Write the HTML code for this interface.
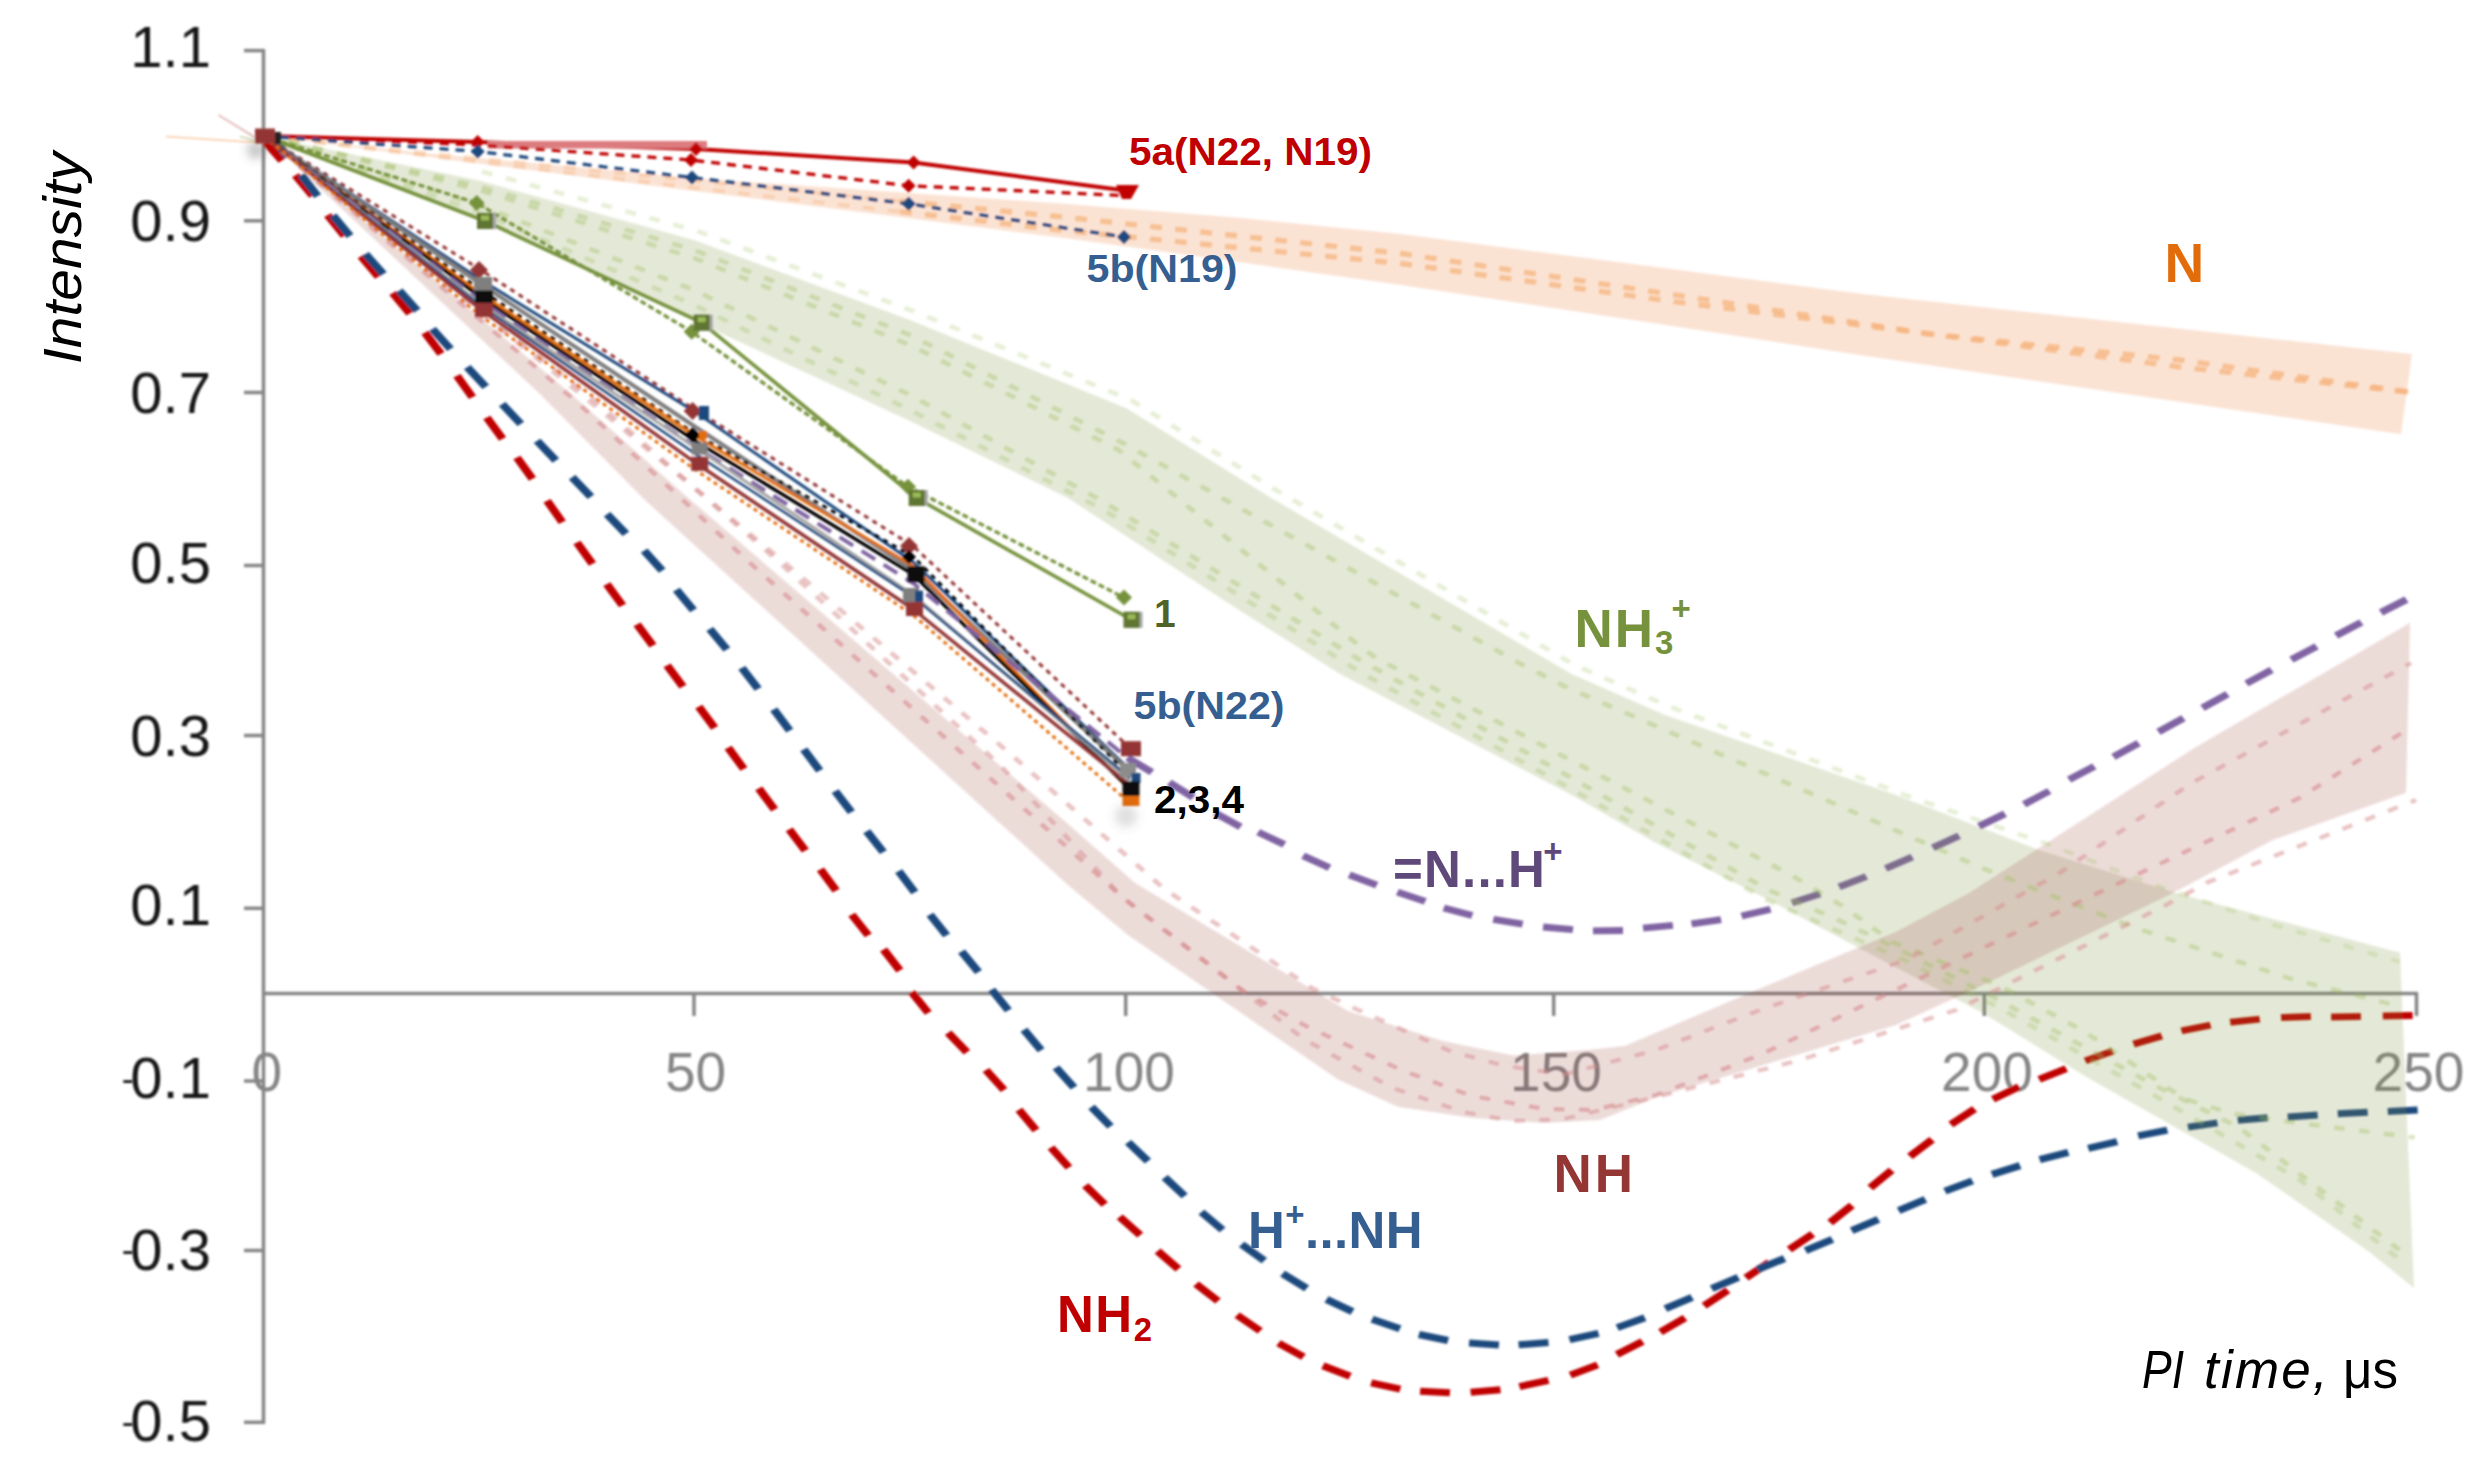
<!DOCTYPE html>
<html><head><meta charset="utf-8"><title>Chart</title>
<style>
html,body{margin:0;padding:0;background:#fff;}
body{width:2484px;height:1459px;overflow:hidden;}
svg{display:block;font-family:"Liberation Sans",sans-serif;}
</style></head><body>
<svg width="2484" height="1459" viewBox="0 0 2484 1459">
<defs><filter id="sh" x="-100%" y="-100%" width="300%" height="300%"><feGaussianBlur stdDeviation="5"/></filter><filter id="bl" x="-2%" y="-2%" width="104%" height="104%"><feGaussianBlur stdDeviation="1.3"/></filter></defs>
<rect width="2484" height="1459" fill="#fff"/>
<g filter="url(#bl)">
<g>
<line x1="263.5" y1="49" x2="263.5" y2="1424" stroke="#868686" stroke-width="3.5"/>
<line x1="262" y1="993.5" x2="2418" y2="993.5" stroke="#868686" stroke-width="3.5"/>
<line x1="244" y1="50.6" x2="264" y2="50.6" stroke="#868686" stroke-width="3.5"/>
<line x1="244" y1="220.8" x2="264" y2="220.8" stroke="#868686" stroke-width="3.5"/>
<line x1="244" y1="392.5" x2="264" y2="392.5" stroke="#868686" stroke-width="3.5"/>
<line x1="244" y1="565.5" x2="264" y2="565.5" stroke="#868686" stroke-width="3.5"/>
<line x1="244" y1="735.5" x2="264" y2="735.5" stroke="#868686" stroke-width="3.5"/>
<line x1="244" y1="908.3" x2="264" y2="908.3" stroke="#868686" stroke-width="3.5"/>
<line x1="244" y1="1081.0" x2="264" y2="1081.0" stroke="#868686" stroke-width="3.5"/>
<line x1="244" y1="1250.5" x2="264" y2="1250.5" stroke="#868686" stroke-width="3.5"/>
<line x1="244" y1="1422.3" x2="264" y2="1422.3" stroke="#868686" stroke-width="3.5"/>
<line x1="694" y1="993" x2="694" y2="1016" stroke="#868686" stroke-width="3.5"/>
<line x1="1125.7" y1="993" x2="1125.7" y2="1016" stroke="#868686" stroke-width="3.5"/>
<line x1="1553.7" y1="993" x2="1553.7" y2="1016" stroke="#868686" stroke-width="3.5"/>
<line x1="1984.3" y1="993" x2="1984.3" y2="1016" stroke="#868686" stroke-width="3.5"/>
<line x1="2416.5" y1="993" x2="2416.5" y2="1016" stroke="#868686" stroke-width="3.5"/>
<text x="211" y="67.0" text-anchor="end" font-size="58" fill="#151515">1.1</text>
<text x="211" y="240.6" text-anchor="end" font-size="58" fill="#151515">0.9</text>
<text x="211" y="413.0" text-anchor="end" font-size="58" fill="#151515">0.7</text>
<text x="211" y="583.0" text-anchor="end" font-size="58" fill="#151515">0.5</text>
<text x="211" y="755.9" text-anchor="end" font-size="58" fill="#151515">0.3</text>
<text x="211" y="924.8" text-anchor="end" font-size="58" fill="#151515">0.1</text>
<text x="211" y="1098.0" text-anchor="end" font-size="58" fill="#151515"><tspan font-size="36" dy="-7.5">-</tspan><tspan dx="-3.5" dy="7.5">0.1</tspan></text>
<text x="211" y="1269.5" text-anchor="end" font-size="58" fill="#151515"><tspan font-size="36" dy="-7.5">-</tspan><tspan dx="-3.5" dy="7.5">0.3</tspan></text>
<text x="211" y="1441.0" text-anchor="end" font-size="58" fill="#151515"><tspan font-size="36" dy="-7.5">-</tspan><tspan dx="-3.5" dy="7.5">0.5</tspan></text>
<text x="266.7" y="1090.5" text-anchor="middle" font-size="55" fill="#858585">0</text>
<text x="695.5" y="1090.5" text-anchor="middle" font-size="55" fill="#858585">50</text>
<text x="1129" y="1090.5" text-anchor="middle" font-size="55" fill="#858585">100</text>
<text x="1556" y="1090.5" text-anchor="middle" font-size="55" fill="#858585">150</text>
<text x="1987" y="1090.5" text-anchor="middle" font-size="55" fill="#858585">200</text>
<text x="2418.5" y="1090.5" text-anchor="middle" font-size="55" fill="#858585">250</text>
</g>
<g stroke-linecap="butt" stroke-linejoin="round">
<path transform="scale(1.2,1)" d="M220.1,140.4L234.9,160.6M246.2,175.3L260.5,195.7M273.0,215.1L287.0,235.9M300.9,256.3L315.3,276.7M327.3,292.9L341.5,313.5M354.1,332.6L367.5,353.8M380.8,375.8L393.7,397.2M405.7,417.5L418.8,438.9M430.8,457.5L443.7,478.9M455.9,500.7L468.6,522.3M480.8,542.5L493.7,563.9M505.7,584.1L518.8,605.5M530.9,624.4L544.1,645.6M555.9,665.4L569.1,686.6M582.3,706.7L595.5,727.9M606.8,747.6L619.9,769.0M632.3,788.4L645.5,809.6M657.7,829.4L671.1,850.6M683.7,869.4L696.8,890.6M709.8,914.6L723.6,935.4M736.3,949.5L749.9,970.5M759.7,992.1L773.6,1012.9M790.1,1032.8L805.8,1052.2M821.6,1070.0L836.7,1090.0M849.1,1109.8L863.4,1130.2M875.8,1147.5L890.8,1167.5M904.4,1185.5L920.6,1204.5M933.1,1216.9L950.2,1235.1M964.7,1251.0L982.0,1269.0M996.7,1284.0L1015.0,1301.0M1030.9,1315.1L1050.2,1330.9M1065.4,1343.1L1086.3,1356.9M1102.4,1365.8L1125.1,1376.2M1142.6,1382.9L1166.9,1389.1M1183.4,1391.2L1208.3,1392.8M1225.5,1392.3L1250.4,1389.7M1266.2,1386.6L1290.4,1380.4M1308.6,1375.1L1331.4,1364.9M1347.4,1354.5L1368.8,1341.5M1383.7,1332.1L1404.2,1317.9M1420.1,1305.7L1439.9,1290.3M1455.0,1277.8L1474.5,1262.2M1491.1,1249.5L1510.6,1233.9M1525.1,1222.6L1543.3,1205.4M1558.6,1187.8L1576.4,1170.2M1591.6,1156.4L1610.1,1139.6M1625.7,1124.4L1645.5,1109.0M1660.8,1099.2L1682.5,1086.8M1699.3,1079.4L1721.9,1068.6M1737.7,1060.9L1760.7,1051.1M1777.9,1044.1L1801.6,1035.9M1817.8,1030.9L1842.2,1025.1M1858.4,1022.3L1883.2,1019.1M1900.8,1017.6L1925.8,1016.4M1942.5,1016.9L1967.5,1016.5M1985.6,1016.0L2010.6,1015.4" fill="none" stroke="#c00000" stroke-width="7"/>
<path transform="scale(1.2,1)" d="M226.3,135.4L239.6,156.6M251.1,175.2L264.7,196.2M277.5,215.4L291.7,236.0M304.6,254.0L319.5,274.0M332.7,290.7L347.6,310.7M360.4,329.0L375.4,349.0M389.4,367.1L404.8,386.9M418.5,404.2L434.0,423.8M447.6,440.9L463.2,460.5M476.8,477.2L492.4,496.8M505.9,514.3L521.6,533.7M536.8,550.7L551.8,570.7M563.7,589.7L577.9,610.3M591.5,629.0L605.7,649.6M618.2,667.8L631.8,688.8M644.8,709.4L658.1,730.6M669.8,749.4L683.1,770.6M696.0,791.2L709.5,812.2M722.3,831.3L736.1,852.1M748.9,871.1L762.3,892.3M775.0,914.6L788.8,935.4M801.3,951.4L815.4,972.0M826.4,989.6L840.3,1010.4M853.3,1029.8L867.6,1050.2M880.0,1067.5L895.0,1087.5M909.6,1107.0L925.4,1126.4M940.1,1142.3L956.6,1161.1M970.6,1177.4L987.2,1196.0M1001.2,1212.1L1018.8,1229.9M1034.7,1244.3L1053.6,1260.7M1068.8,1273.6L1088.9,1288.4M1105.4,1299.4L1127.1,1311.6M1143.4,1319.3L1166.6,1328.7M1182.4,1334.5L1206.7,1340.5M1224.2,1343.1L1249.1,1344.9M1265.5,1344.8L1290.4,1342.6M1307.9,1339.6L1332.1,1333.4M1347.7,1327.6L1370.7,1317.8M1387.8,1308.7L1410.1,1297.3M1426.4,1288.7L1448.6,1277.3M1464.6,1269.5L1487.1,1258.5M1504.6,1250.6L1527.0,1239.4M1543.1,1230.7L1565.3,1219.3M1582.2,1210.6L1604.5,1199.4M1620.8,1191.1L1643.7,1180.9M1660.0,1174.4L1683.4,1165.6M1699.7,1159.7L1723.6,1152.3M1740.2,1148.4L1764.3,1141.6M1781.8,1135.9L1806.1,1130.1M1823.3,1127.1L1847.9,1122.9M1864.8,1120.3L1889.7,1117.7M1906.4,1116.9L1931.4,1115.1M1948.1,1113.8L1973.1,1112.2M1989.8,1111.4L2014.7,1110.0" fill="none" stroke="#1f497d" stroke-width="7"/>
<path transform="scale(1.2,1)" d="M939.6,757.7L959.9,772.3M974.4,782.5L994.4,797.5M1012.8,813.2L1033.8,826.8M1048.5,832.1L1070.3,844.5M1085.9,855.7L1107.9,867.7M1124.4,874.9L1147.3,885.1M1164.5,892.1L1187.7,901.3M1203.1,908.0L1226.9,915.4M1244.4,919.3L1268.9,924.1M1285.9,927.0L1310.8,929.6M1327.5,930.9L1352.5,930.5M1369.2,928.1L1394.1,925.3M1409.6,923.8L1434.2,919.6M1451.3,916.1L1475.4,909.3M1493.3,902.8L1516.7,893.8M1532.6,886.9L1555.3,876.5M1571.4,868.4L1593.6,857.0M1610.7,847.7L1632.6,835.7M1649.2,826.3L1670.8,813.7M1686.7,804.4L1707.8,791.0M1724.2,779.7L1745.3,766.3M1761.2,756.8L1782.2,743.2M1798.7,731.9L1819.6,718.1M1835.4,707.9L1856.3,694.1M1872.0,683.5L1893.0,669.9M1909.5,659.7L1930.5,646.3M1946.7,635.7L1967.8,622.3M1984.1,612.5L2005.4,599.5" fill="none" stroke="#8064a2" stroke-width="6.8"/>
<polygon points="264.0,136.0 420.0,152.5 700.0,178.5 1068.0,204.0 1242.0,218.0 1401.0,234.0 1656.0,267.0 1863.0,294.0 2412.0,354.0 2401.0,434.3 1863.0,355.5 1656.0,323.5 1401.0,285.0 1242.0,262.5 1068.0,238.5 700.0,191.7 264.0,136.0" fill="rgba(238,138,72,0.235)"/>
<polygon points="264.0,136.0 479.0,180.5 694.0,240.0 910.0,320.0 1127.0,408.5 1268.0,496.0 1571.6,674.0 1665.0,715.0 1896.0,795.0 2039.0,850.0 2176.0,893.0 2400.0,952.7 2414.0,1288.0 2369.0,1251.7 2256.0,1173.0 2086.0,1076.7 1982.7,1013.0 1862.7,950.0 1769.0,900.0 1656.0,843.0 1568.0,793.0 1340.0,674.0 1228.0,603.0 1100.0,519.0 1068.0,498.0 910.0,421.0 699.0,323.0 485.0,222.0 264.0,136.0" fill="rgba(118,146,60,0.2)"/>
<polygon points="264.0,136.0 571.0,394.0 687.0,497.0 1068.0,824.0 1135.0,883.0 1348.0,1011.0 1442.7,1041.0 1513.0,1055.4 1588.0,1050.0 1624.7,1046.0 1766.0,986.0 1896.0,931.7 1969.0,893.0 2196.0,747.0 2410.0,623.0 2406.0,792.7 2272.7,840.0 2169.0,895.0 1981.0,986.0 1896.0,1025.0 1658.0,1096.7 1600.0,1120.0 1543.5,1123.0 1473.0,1118.0 1398.0,1106.8 1338.0,1079.6 1128.0,935.0 1068.0,885.0 645.0,500.0 540.0,394.0 264.0,136.0" fill="rgba(148,54,52,0.18)"/>
<polyline points="220.0,136.0 583.3,181.5 750.0,201.0" fill="none" stroke="#f6b47f" stroke-width="4" stroke-dasharray="10 11" stroke-opacity="0.4"  transform="scale(1.2,1)"/>
<polyline points="750.0,201.0 890.0,217.5 1167.5,253.5 1390.8,294.0 1608.3,334.0 1816.7,367.0 2011.7,392.7" fill="none" stroke="#f6b47f" stroke-width="5.4" stroke-dasharray="10 11" stroke-opacity="0.75"  transform="scale(1.2,1)"/>
<polyline points="220.0,136.0 583.3,188.5 750.0,211.6" fill="none" stroke="#f6b47f" stroke-width="4" stroke-dasharray="10 11" stroke-opacity="0.4"  transform="scale(1.2,1)"/>
<polyline points="750.0,211.6 890.0,231.0 1167.5,263.5 1390.8,301.0 1608.3,334.0 1816.7,360.0 2011.7,392.7" fill="none" stroke="#f6b47f" stroke-width="5.4" stroke-dasharray="10 11" stroke-opacity="0.75"  transform="scale(1.2,1)"/>
<polyline points="401.7,171.5 580.8,231.0 760.8,311.0 941.7,399.5 1059.2,487.0 1312.2,665.0 1390.0,706.0 1595.4,798.5 1701.5,842.0 1796.7,885.5 1837.1,901.6 1897.5,925.8 2000.0,962.0" fill="none" stroke="#9bbb59" stroke-width="4.5" stroke-dasharray="9 12" stroke-opacity="0.24"  transform="scale(1.2,1)"/>
<polyline points="220.0,136.0 399.2,186.0 578.3,250.0 758.3,335.0 935.0,442.5 1267.5,664.0 1305.0,687.0 1652.5,868.4 1710.8,896.0 1781.7,928.8 1909.6,979.0 2000.0,1006.5" fill="none" stroke="#9bbb59" stroke-width="4.5" stroke-dasharray="9 12" stroke-opacity="0.36"  transform="scale(1.2,1)"/>
<polyline points="220.0,136.0 399.2,190.0 578.3,258.0 758.3,345.0 931.7,449.5 1130.0,643.0 1146.7,658.0 1303.3,756.6 1493.2,875.5 1535.0,905.7 1577.1,942.0 1666.7,986.0 1736.2,1031.0 1820.0,1098.7 1858.3,1113.0 1906.7,1121.7 2012.2,1137.5" fill="none" stroke="#9bbb59" stroke-width="4.5" stroke-dasharray="9 12" stroke-opacity="0.36"  transform="scale(1.2,1)"/>
<polyline points="220.0,136.0 399.2,205.0 578.3,290.0 758.3,395.0 920.0,502.0 1133.3,660.0 1305.0,774.7 1473.0,889.6 1531.7,919.8 1583.3,950.0 1666.7,1000.8 1793.8,1084.3 1865.8,1127.5 2002.5,1252.7" fill="none" stroke="#9bbb59" stroke-width="4.5" stroke-dasharray="9 12" stroke-opacity="0.36"  transform="scale(1.2,1)"/>
<polyline points="220.0,136.0 399.2,212.0 578.3,305.0 758.3,410.0 920.0,510.0 1133.3,672.0 1305.0,786.0 1472.5,900.0 1583.3,958.0 1666.7,1008.0 1791.7,1093.0 1916.7,1180.0 2002.2,1262.0" fill="none" stroke="#9bbb59" stroke-width="4.5" stroke-dasharray="9 12" stroke-opacity="0.3"  transform="scale(1.2,1)"/>
<polyline points="220.0,136.0 502.1,412.0 649.2,558.0 833.3,745.0 970.4,889.0 1093.1,988.0 1130.0,1009.0 1209.2,1051.4 1252.5,1065.5 1303.1,1074.5 1380.0,1050.0 1466.7,1010.0 1588.3,960.0 1717.5,872.0 1825.0,784.0 2009.2,663.0" fill="none" stroke="#d68c8c" stroke-width="4.2" stroke-dasharray="9 12" stroke-opacity="0.5"  transform="scale(1.2,1)"/>
<polyline points="220.0,136.0 480.7,402.0 575.0,506.7 621.3,559.0 833.3,787.0 890.0,848.0 935.0,897.0 1035.8,991.0 1089.8,1027.0 1168.7,1070.5 1225.8,1095.7 1286.2,1108.8 1328.3,1110.0 1380.0,1095.0 1466.7,1055.0 1588.3,985.0 1745.8,894.4 1916.7,797.7 2009.2,727.0" fill="none" stroke="#d68c8c" stroke-width="4.2" stroke-dasharray="9 12" stroke-opacity="0.62"  transform="scale(1.2,1)"/>
<polyline points="220.0,136.0 500.0,405.0 650.0,563.0 833.3,765.0 935.0,897.0 1035.8,991.0 1086.3,1039.0 1160.0,1087.7 1219.2,1111.9 1260.8,1121.0 1303.1,1119.0 1380.0,1097.0 1500.0,1060.0 1630.0,1010.0 1805.0,905.0 1838.3,883.0 2013.3,800.0" fill="none" stroke="#d68c8c" stroke-width="4.2" stroke-dasharray="9 12" stroke-opacity="0.5"  transform="scale(1.2,1)"/>
<polyline points="264.0,136.0 477.7,142.0 696.0,149.0 913.6,162.5 1127.0,190.7" fill="none" stroke="#c00000" stroke-width="4" />
<rect x="488" y="141" width="219" height="7.5" fill="#dc7b7f"/>
<polygon points="477.7,135.0 484.7,142.0 477.7,149.0 470.7,142.0" fill="#c00000"/>
<polygon points="696.0,142.0 703.0,149.0 696.0,156.0 689.0,149.0" fill="#c00000"/>
<polygon points="913.6,155.5 920.6,162.5 913.6,169.5 906.6,162.5" fill="#c00000"/>
<polygon points="1116,185 1139,185 1131,199 1122,199" fill="#c00000"/>
<polyline points="264.0,136.0 477.7,145.0 691.0,160.0 908.6,185.7 1127.0,195.7" fill="none" stroke="#c00000" stroke-width="3.3" stroke-dasharray="9 7" />
<polygon points="691.0,153.0 698.0,160.0 691.0,167.0 684.0,160.0" fill="#c00000"/>
<polygon points="908.6,178.7 915.6,185.7 908.6,192.7 901.6,185.7" fill="#c00000"/>
<polyline points="264.0,136.0 477.7,151.4 692.0,177.6 908.6,203.8 1124.0,237.0" fill="none" stroke="#1f497d" stroke-width="3.3" stroke-dasharray="9 7" />
<polygon points="477.7,144.4 484.7,151.4 477.7,158.4 470.7,151.4" fill="#1f497d"/>
<polygon points="692.0,170.6 699.0,177.6 692.0,184.6 685.0,177.6" fill="#1f497d"/>
<polygon points="908.6,196.8 915.6,203.8 908.6,210.8 901.6,203.8" fill="#1f497d"/>
<polygon points="1124.0,230.0 1131.0,237.0 1124.0,244.0 1117.0,237.0" fill="#1f497d"/>
<polyline points="264.0,136.0 476.7,203.0 691.7,331.7 908.0,486.7 1124.0,597.6" fill="none" stroke="#76923c" stroke-width="3.2" stroke-dasharray="6 3" />
<polyline points="264.0,136.0 485.0,221.0 701.7,322.7 916.7,498.0 1131.5,619.8" fill="none" stroke="#76923c" stroke-width="3.6" />
<polygon points="476.7,195.0 484.7,203.0 476.7,211.0 468.7,203.0" fill="#76923c"/>
<polygon points="691.7,323.7 699.7,331.7 691.7,339.7 683.7,331.7" fill="#76923c"/>
<polygon points="908.0,478.7 916.0,486.7 908.0,494.7 900.0,486.7" fill="#76923c"/>
<polygon points="1124.0,589.6 1132.0,597.6 1124.0,605.6 1116.0,597.6" fill="#76923c"/>
<rect x="478.0" y="213.0" width="18" height="16" fill="#a6a6a6"/>
<rect x="477.0" y="213.0" width="16" height="16" fill="#5f7530"/>
<rect x="481.0" y="215.5" width="8" height="5" fill="#9bbb59"/>
<rect x="694.7" y="314.7" width="18" height="16" fill="#a6a6a6"/>
<rect x="693.7" y="314.7" width="16" height="16" fill="#5f7530"/>
<rect x="697.7" y="317.2" width="8" height="5" fill="#9bbb59"/>
<rect x="909.7" y="490.0" width="18" height="16" fill="#a6a6a6"/>
<rect x="908.7" y="490.0" width="16" height="16" fill="#5f7530"/>
<rect x="912.7" y="492.5" width="8" height="5" fill="#9bbb59"/>
<rect x="1124.5" y="611.8" width="18" height="16" fill="#a6a6a6"/>
<rect x="1123.5" y="611.8" width="16" height="16" fill="#5f7530"/>
<rect x="1127.5" y="614.3" width="8" height="5" fill="#9bbb59"/>
<polyline points="264.0,136.0 481.0,270.0 697.0,411.0 913.0,546.0 1130.0,748.0" fill="none" stroke="#943634" stroke-width="3" stroke-dasharray="5 5" />
<polyline points="264.0,136.0 481.0,280.0 697.0,413.0 913.0,562.0 1130.0,770.0" fill="none" stroke="#1f497d" stroke-width="3" />
<polyline points="264.0,136.0 481.0,284.0 697.0,428.0 913.0,570.0 1130.0,772.0" fill="none" stroke="#7f7f7f" stroke-width="4" />
<polyline points="264.0,136.0 481.0,290.0 697.0,435.0 913.0,556.5 1130.0,776.0" fill="none" stroke="#000000" stroke-width="3" stroke-dasharray="5 5" />
<polyline points="264.0,136.0 481.0,294.0 697.0,437.0 913.0,566.0 1130.0,790.0" fill="none" stroke="#e36c0a" stroke-width="3" />
<polyline points="264.0,136.0 481.0,297.5 697.0,442.0 913.0,574.3 1130.0,789.0" fill="none" stroke="#000000" stroke-width="3.5" />
<polyline points="264.0,136.0 481.0,301.0 697.0,448.0 913.0,583.0 1130.0,760.0" fill="none" stroke="#8064a2" stroke-width="4" stroke-dasharray="16 10" />
<polyline points="264.0,136.0 481.0,304.0 697.0,448.6 913.0,594.8 1130.0,781.0" fill="none" stroke="#a5a5a5" stroke-width="3" />
<polyline points="264.0,136.0 481.0,306.0 697.0,455.0 913.0,596.6 1130.0,778.0" fill="none" stroke="#1f497d" stroke-width="2.5" />
<polyline points="264.0,136.0 481.0,309.6 697.0,463.8 913.0,609.0 1130.0,785.0" fill="none" stroke="#943634" stroke-width="3.5" />
<polyline points="264.0,136.0 481.0,316.0 697.0,471.0 913.0,615.0 1130.0,803.0" fill="none" stroke="#e36c0a" stroke-width="3" stroke-dasharray="4 4" />
<polygon points="479.0,261.0 488.0,270.0 479.0,279.0 470.0,270.0" fill="#943634"/>
<rect x="474.0" y="277.0" width="18" height="14" fill="#7f7f7f"/>
<rect x="475.0" y="290.5" width="18" height="14" fill="#111"/>
<rect x="475.0" y="303.0" width="18" height="14" fill="#943634"/>
<polygon points="692.6,402.0 701.6,411.0 692.6,420.0 683.6,411.0" fill="#943634"/>
<rect x="699.0" y="406.0" width="10" height="14" fill="#1f497d"/>
<polygon points="692.6,427.0 700.6,435.0 692.6,443.0 684.6,435.0" fill="#000"/>
<rect x="699.0" y="431.0" width="8" height="8" fill="#e36c0a"/>
<rect x="691.7" y="442.6" width="16" height="12" fill="#7f7f7f"/>
<rect x="691.2" y="456.8" width="17" height="14" fill="#943634"/>
<polygon points="909.0,537.0 918.0,546.0 909.0,555.0 900.0,546.0" fill="#943634"/>
<polygon points="909.0,550.0 916.0,557.0 909.0,564.0 902.0,557.0" fill="#000"/>
<rect x="907.5" y="566.3" width="17" height="16" fill="#111"/>
<rect x="903.0" y="588.0" width="16" height="14" fill="#7f7f7f"/>
<rect x="915.0" y="590.6" width="8" height="12" fill="#1f497d"/>
<rect x="906.0" y="602.0" width="17" height="14" fill="#943634"/>
<rect x="1121.0" y="741.2" width="20" height="15" fill="#943634"/>
<rect x="1120.0" y="763.0" width="16" height="14" fill="#8c8c8c"/>
<rect x="1131.5" y="773.0" width="9" height="10" fill="#1f497d"/>
<rect x="1122.5" y="781.5" width="17" height="15" fill="#111"/>
<rect x="1122.5" y="796.0" width="17" height="10" fill="#e36c0a"/>
<line x1="166" y1="136.5" x2="264" y2="143" stroke="#f9c9a3" stroke-width="1.5"/>
<line x1="218.5" y1="115" x2="264" y2="143" stroke="#e3bcbc" stroke-width="2"/>
<line x1="240" y1="136.5" x2="264" y2="143" stroke="#c9d7ab" stroke-width="1.5"/>
<circle cx="256" cy="150" r="9" fill="#555" fill-opacity="0.35" filter="url(#sh)"/>
<circle cx="1126" cy="816" r="11" fill="#555" fill-opacity="0.2" filter="url(#sh)"/>
<rect x="255.0" y="128.5" width="20" height="15" fill="#943634"/>
<rect x="275.0" y="132.0" width="6" height="12" fill="#222"/>
</g>
</g>
<g>
<text x="1129" y="165" font-size="39" fill="#c00000" font-weight="bold" textLength="243" lengthAdjust="spacingAndGlyphs">5a(N22, N19)</text>
<text x="1086.5" y="281.7" font-size="39" fill="#365f91" font-weight="bold" textLength="151" lengthAdjust="spacingAndGlyphs">5b(N19)</text>
<text x="1133.5" y="718.5" font-size="39" fill="#365f91" font-weight="bold" textLength="151" lengthAdjust="spacingAndGlyphs">5b(N22)</text>
<text x="1154" y="626.7" font-size="39" fill="#4f6228" font-weight="bold" >1</text>
<text x="1154" y="812.7" font-size="39" fill="#000" font-weight="bold" textLength="90" lengthAdjust="spacingAndGlyphs">2,3,4</text>
<text x="2164.5" y="281.5" font-size="55" fill="#e36c0a" font-weight="bold" >N</text>
<text x="1574.5" y="647.3" font-size="53" fill="#76923c" font-weight="bold" letter-spacing="2">NH<tspan font-size="33" dy="7">3</tspan><tspan font-size="33" dy="-34" dx="-4">+</tspan></text>
<text x="1393" y="887.3" font-size="51" fill="#5f497a" font-weight="bold" letter-spacing="1.2">=N...H<tspan font-size="33" dy="-24" dx="-3">+</tspan></text>
<text x="1553.5" y="1191.5" font-size="53" fill="#943634" font-weight="bold" letter-spacing="3">NH</text>
<text x="1248" y="1247.7" font-size="51" fill="#365f91" font-weight="bold" letter-spacing="0.4">H<tspan font-size="33" dy="-22">+</tspan><tspan dy="22">...NH</tspan></text>
<text x="1057" y="1332" font-size="51" fill="#c00000" font-weight="bold" letter-spacing="1.5">NH<tspan font-size="33" dy="9">2</tspan></text>
<text y="1387.5" font-size="53" fill="#000" font-style="italic"><tspan x="2142" textLength="42" lengthAdjust="spacingAndGlyphs">PI</tspan> <tspan x="2204" letter-spacing="2.2">time,</tspan> <tspan x="2343" font-size="51" font-style="normal">μs</tspan></text>
<text transform="translate(81,364) rotate(-90)" font-size="54" fill="#000" font-style="italic" textLength="212" lengthAdjust="spacingAndGlyphs">Intensity</text>
</g>
</svg>
</body></html>
